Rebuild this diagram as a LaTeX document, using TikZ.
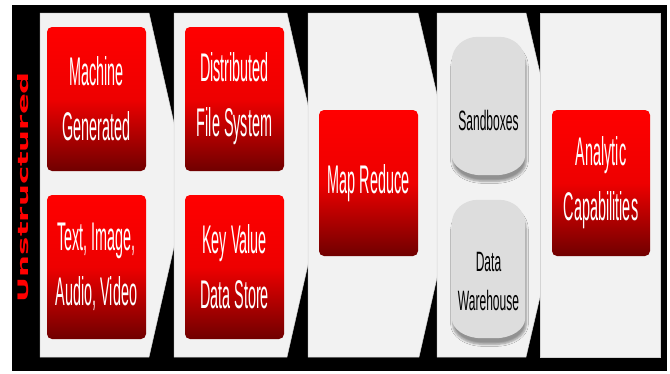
\documentclass[tikz,border=0pt]{standalone}
\usepackage{graphicx}
\usepackage{fontspec}
\setmainfont{Liberation Sans}
\newfontfamily\narrowsans[FakeStretch=0.36]{Liberation Sans}
\newfontfamily\cylsans[FakeStretch=0.43]{Liberation Sans}
\newfontfamily\heavysans{DejaVu Sans}
\usetikzlibrary{shadows.blur}

\definecolor{panelgray}{RGB}{242,242,242}
\definecolor{paneledge}{RGB}{212,212,212}
\definecolor{boxtop}{RGB}{255,0,0}
\definecolor{boxmid}{RGB}{238,0,0}
\definecolor{boxbot}{RGB}{112,0,0}
\definecolor{cylfill}{RGB}{221,221,221}
\definecolor{labelred}{RGB}{255,0,0}

\begin{document}
\begin{tikzpicture}[x=1pt,y=-1pt,
  panel/.style={fill=panelgray, draw=paneledge, line width=0.5pt},
  redbox/.style={rounded corners=5pt, minimum width=99pt, minimum height=144pt,
    inner sep=0pt, top color=boxtop, bottom color=boxbot, middle color=boxmid,
    text=white, align=center, font=\narrowsans\fontsize{40}{55}\selectfont},
  cylbox/.style={minimum width=73pt, minimum height=138pt, inner sep=0pt},
  cylbody/.style={fill=cylfill,
    blur shadow={shadow xshift=1pt, shadow yshift=-6pt, shadow opacity=40,
      shadow blur steps=6}},
  cyltext/.style={text=black, align=center, inner sep=0pt,
    font=\cylsans\fontsize{28}{39}\selectfont}
]
\useasboundingbox (0,0) rectangle (670,373);
\fill[white] (0,0) rectangle (670,373);
\fill[black] (12,5) rectangle (667,371);

% stage panels, each chevron tucked under the next one
\draw[panel] (40,13) -- (149,13) -- (188,185) -- (149,357) -- (40,357) -- cycle;
\draw[panel] (174,13) -- (287,13) -- (326,185) -- (287,357) -- (174,357) -- cycle;
\draw[panel] (308,13) -- (418,13) -- (458,185) -- (419,357) -- (308,357) -- cycle;
\draw[panel] (437,13) -- (526,13) -- (566,185) -- (526,357) -- (437,357) -- cycle;
\draw[panel] (540,13) -- (660,13) -- (660,357) -- (540,357) -- cycle;

% side caption
\node[rotate=90, text=labelred, inner sep=0pt] (unstr) at (23.5,187)
  {\resizebox{230pt}{11pt}{\heavysans\bfseries Unstructured}};

% sources
\node[redbox] (mg) at (96.5,99) {Machine\\Generated};
\node[redbox] (tiav) at (96.5,267) {Text, Image,\\Audio, Video};

% storage
\node[redbox] (dfs) at (234.5,99) {Distributed\\File System};
\node[redbox] (kv) at (234.5,267) {Key Value\\Data Store};

% processing
\node[redbox, minimum height=146pt] (mr) at (368.5,183) {Map Reduce};

% stores: capsule bodies with elliptical ends
\node[cylbox] (sb) at (488.5,106) {};
\node[cylbox] (dw) at (488.5,269) {};
\foreach \n in {sb,dw}{
  \fill[cylbody]
    ([yshift=-24pt]\n.north west)
      .. controls ([yshift=-10.7pt]\n.north west) and ([xshift=11.6pt]\n.north west)
      .. ([xshift=26pt]\n.north west)
    -- ([xshift=-26pt]\n.north east)
      .. controls ([xshift=-11.6pt]\n.north east) and ([yshift=-10.7pt]\n.north east)
      .. ([yshift=-24pt]\n.north east)
    -- ([yshift=20pt]\n.south east)
      .. controls ([yshift=9pt]\n.south east) and ([xshift=-13.4pt]\n.south east)
      .. ([xshift=-30pt]\n.south east)
    -- ([xshift=30pt]\n.south west)
      .. controls ([xshift=13.4pt]\n.south west) and ([yshift=9pt]\n.south west)
      .. ([yshift=20pt]\n.south west)
    -- cycle;
}
\node[cyltext] (sbt) at (488.5,120) {Sandboxes};
\node[cyltext] (dwt) at (488.5,281) {Data\\Warehouse};

% analytics
\node[redbox, minimum width=98pt, minimum height=146pt] (ac) at (601,183)
  {Analytic\\Capabilities};
\end{tikzpicture}
\end{document}
